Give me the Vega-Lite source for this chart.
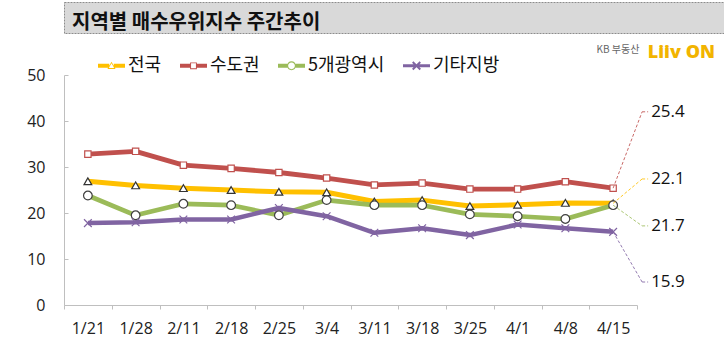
{
  "$schema": "https://vega.github.io/schema/vega-lite/v6.json",
  "padding": {"left": 1, "top": 1, "right": 1, "bottom": 4},
  "background": "white",
  "spacing": 10,
  "resolve": {"legend": {"color": "independent"}, "scale": {"color": "independent"}},
  "config": {"view": {"stroke": null}, "font": "Noto Sans CJK KR"},
  "datasets": {
    "weekly": [
      {"series": "전국", "date": "1/21", "value": 26.9},
      {"series": "전국", "date": "1/28", "value": 26.0},
      {"series": "전국", "date": "2/11", "value": 25.4},
      {"series": "전국", "date": "2/18", "value": 25.0},
      {"series": "전국", "date": "2/25", "value": 24.6},
      {"series": "전국", "date": "3/4", "value": 24.5},
      {"series": "전국", "date": "3/11", "value": 22.5},
      {"series": "전국", "date": "3/18", "value": 22.8},
      {"series": "전국", "date": "3/25", "value": 21.5},
      {"series": "전국", "date": "4/1", "value": 21.8},
      {"series": "전국", "date": "4/8", "value": 22.2},
      {"series": "전국", "date": "4/15", "value": 22.1},
      {"series": "수도권", "date": "1/21", "value": 32.8},
      {"series": "수도권", "date": "1/28", "value": 33.4},
      {"series": "수도권", "date": "2/11", "value": 30.4},
      {"series": "수도권", "date": "2/18", "value": 29.7},
      {"series": "수도권", "date": "2/25", "value": 28.8},
      {"series": "수도권", "date": "3/4", "value": 27.6},
      {"series": "수도권", "date": "3/11", "value": 26.1},
      {"series": "수도권", "date": "3/18", "value": 26.5},
      {"series": "수도권", "date": "3/25", "value": 25.2},
      {"series": "수도권", "date": "4/1", "value": 25.2},
      {"series": "수도권", "date": "4/8", "value": 26.8},
      {"series": "수도권", "date": "4/15", "value": 25.4},
      {"series": "5개광역시", "date": "1/21", "value": 23.8},
      {"series": "5개광역시", "date": "1/28", "value": 19.5},
      {"series": "5개광역시", "date": "2/11", "value": 22.0},
      {"series": "5개광역시", "date": "2/18", "value": 21.7},
      {"series": "5개광역시", "date": "2/25", "value": 19.5},
      {"series": "5개광역시", "date": "3/4", "value": 22.8},
      {"series": "5개광역시", "date": "3/11", "value": 21.7},
      {"series": "5개광역시", "date": "3/18", "value": 21.7},
      {"series": "5개광역시", "date": "3/25", "value": 19.7},
      {"series": "5개광역시", "date": "4/1", "value": 19.3},
      {"series": "5개광역시", "date": "4/8", "value": 18.7},
      {"series": "5개광역시", "date": "4/15", "value": 21.7},
      {"series": "기타지방", "date": "1/21", "value": 17.8},
      {"series": "기타지방", "date": "1/28", "value": 18.0},
      {"series": "기타지방", "date": "2/11", "value": 18.6},
      {"series": "기타지방", "date": "2/18", "value": 18.6},
      {"series": "기타지방", "date": "2/25", "value": 21.1},
      {"series": "기타지방", "date": "3/4", "value": 19.3},
      {"series": "기타지방", "date": "3/11", "value": 15.7},
      {"series": "기타지방", "date": "3/18", "value": 16.7},
      {"series": "기타지방", "date": "3/25", "value": 15.2},
      {"series": "기타지방", "date": "4/1", "value": 17.5},
      {"series": "기타지방", "date": "4/8", "value": 16.7},
      {"series": "기타지방", "date": "4/15", "value": 15.9}
    ],
    "endLabels": [
      {"series": "수도권", "date": "4/15", "value": 25.4, "labelAt": 42.0},
      {"series": "전국", "date": "4/15", "value": 22.1, "labelAt": 27.4},
      {"series": "5개광역시", "date": "4/15", "value": 21.7, "labelAt": 17.2},
      {"series": "기타지방", "date": "4/15", "value": 15.9, "labelAt": 5.0}
    ]
  },
  "vconcat": [
    {
      "width": 721,
      "height": 31,
      "view": {"fill": "#d9d9d9", "stroke": "#8c8c8c", "strokeDash": [2, 1], "strokeWidth": 1},
      "title": {
        "text": "지역별 매수우위지수 주간추이",
        "anchor": "start",
        "frame": "group",
        "orient": "top",
        "offset": -31,
        "dx": 8,
        "fontSize": 20,
        "fontWeight": "bold",
        "font": "Noto Sans CJK KR",
        "color": "#111111"
      },
      "data": {"values": [{"k": 1}]},
      "mark": {"type": "rule", "opacity": 0},
      "encoding": {}
    },
    {
      "width": 573,
      "height": 230,
      "title": {
        "text": "Liiv ON",
        "anchor": "end",
        "frame": "group",
        "orient": "top",
        "offset": -18,
        "dx": 78,
        "fontSize": 18,
        "fontWeight": 900,
        "font": "Noto Sans",
        "color": "#f2b400"
      },
      "encoding": {
        "x": {
          "field": "date",
          "type": "ordinal",
          "bandPosition": 0.5,
          "scale": {
            "type": "band",
            "paddingInner": 0,
            "paddingOuter": 0,
            "domain": ["1/21", "1/28", "2/11", "2/18", "2/25", "3/4", "3/11", "3/18", "3/25", "4/1", "4/8", "4/15"]
          },
          "axis": {
            "title": null,
            "labelAngle": 0,
            "tickBand": "extent",
            "domainColor": "#bfbfbf",
            "tickColor": "#bfbfbf",
            "tickSize": 4,
            "labelFontSize": 16,
            "labelFont": "Open Sans",
            "labelColor": "#222222",
            "labelPadding": 11
          }
        },
        "y": {
          "field": "value",
          "type": "quantitative",
          "scale": {"domain": [0, 50], "nice": false},
          "axis": {
            "title": "KB 부동산",
            "titleAngle": 0,
            "titleX": 532,
            "titleY": -26,
            "titleAlign": "left",
            "titleBaseline": "middle",
            "titleFontSize": 10,
            "titleFontWeight": "normal",
            "titleFont": "Noto Sans CJK KR",
            "titleColor": "#666666",
            "values": [0, 10, 20, 30, 40, 50],
            "grid": false,
            "domainColor": "#bfbfbf",
            "tickColor": "#bfbfbf",
            "tickSize": -4,
            "labelFontSize": 16,
            "labelFont": "Open Sans",
            "labelColor": "#222222",
            "labelPadding": 23,
            "minExtent": 63,
            "maxExtent": 63
          }
        }
      },
      "layer": [
        {
          "data": {"name": "weekly"},
          "mark": {"type": "line", "strokeCap": "butt", "strokeJoin": "round"},
          "encoding": {
            "color": {
              "field": "series",
              "type": "nominal",
              "scale": {
                "domain": ["전국", "수도권", "5개광역시", "기타지방"],
                "range": ["#ffc000", "#c0504d", "#9bbb59", "#8064a2"]
              },
              "legend": {
                "orient": "none",
                "legendX": 34,
                "legendY": -23,
                "direction": "horizontal",
                "title": null,
                "labelFontSize": 18,
                "labelFont": "Noto Sans CJK KR",
                "labelColor": "#111111",
                "symbolSize": 729,
                "labelOffset": 3,
                "columnPadding": 18,
                "encode": {
                  "symbols": {
                    "update": {
                      "shape": {"signal": "['M-1,-0.15H-0.17V0.15H-1Z M0.17,-0.15H1V0.15H0.17Z M0,-0.3L0.3,0.24L-0.3,0.24Z M0,-0.18L-0.2,0.17L0.2,0.17Z', 'M-1,-0.15H-0.25V0.15H-1Z M0.25,-0.15H1V0.15H0.25Z M-0.25,-0.25H0.25V0.25H-0.25Z M-0.18,-0.18V0.18H0.18V-0.18Z', 'M-1,-0.15H-0.31V0.15H-1Z M0.31,-0.15H1V0.15H0.31Z M0.33,0A0.33,0.33 0 1,1 -0.33,0A0.33,0.33 0 1,1 0.33,0Z M0.25,0A0.25,0.25 0 1,0 -0.25,0A0.25,0.25 0 1,0 0.25,0Z', 'M-1,-0.12H1V0.12H-1Z M-0.33,-0.23L-0.23,-0.33L0.33,0.23L0.23,0.33Z M0.23,-0.33L0.33,-0.23L-0.23,0.33L-0.33,0.23Z'][datum.index]"},
                      "fill": {"signal": "['#ffc000', '#c0504d', '#9bbb59', '#8064a2'][datum.index]"},
                      "fillOpacity": {"value": 1},
                      "strokeWidth": {"value": 0},
                      "size": {"value": 729}
                    }
                  }
                }
              }
            },
            "strokeWidth": {
              "field": "series",
              "type": "ordinal",
              "scale": {"domain": ["전국", "수도권", "5개광역시", "기타지방"], "range": [5, 4.5, 5, 3.2]},
              "legend": null
            }
          }
        },
        {
          "data": {"name": "weekly"},
          "transform": [{"filter": "datum.series === '전국'"}],
          "mark": {"type": "point", "shape": "triangle-up", "size": 60, "filled": false, "fill": "white", "fillOpacity": 1, "stroke": "#333333", "strokeWidth": 1.2, "opacity": 1}
        },
        {
          "data": {"name": "weekly"},
          "transform": [{"filter": "datum.series === '수도권'"}],
          "mark": {"type": "point", "shape": "square", "size": 40, "filled": false, "fill": "white", "fillOpacity": 1, "stroke": "#c0504d", "strokeWidth": 1.2, "opacity": 1}
        },
        {
          "data": {"name": "weekly"},
          "transform": [{"filter": "datum.series === '5개광역시'"}],
          "mark": {"type": "point", "shape": "circle", "size": 75, "filled": false, "fill": "white", "fillOpacity": 1, "stroke": "#404040", "strokeWidth": 1.2, "opacity": 1}
        },
        {
          "data": {"name": "weekly"},
          "transform": [{"filter": "datum.series === '기타지방'"}],
          "mark": {"type": "point", "shape": "M-1,-1L1,1M-1,1L1,-1", "size": 60, "filled": false, "stroke": "#8064a2", "strokeWidth": 1.2, "opacity": 1}
        },
        {
          "data": {"name": "endLabels"},
          "mark": {"type": "rule", "strokeDash": [3, 2], "strokeWidth": 1, "x2Offset": 29, "opacity": 0.85},
          "encoding": {
            "x2": {"field": "date"},
            "y2": {"field": "labelAt"},
            "color": {"field": "series", "type": "nominal"}
          }
        },
        {
          "data": {"name": "endLabels"},
          "mark": {"type": "rule", "strokeDash": [3, 2], "strokeWidth": 1, "xOffset": 29, "x2Offset": 35, "opacity": 0.85},
          "encoding": {
            "x2": {"field": "date"},
            "y": {"field": "labelAt", "type": "quantitative"},
            "color": {"field": "series", "type": "nominal"}
          }
        },
        {
          "data": {"name": "endLabels"},
          "mark": {"type": "text", "align": "left", "baseline": "middle", "dx": 38, "fontSize": 17, "font": "Open Sans", "color": "#111111"},
          "encoding": {
            "y": {"field": "labelAt", "type": "quantitative"},
            "text": {"field": "value", "type": "quantitative", "format": ".1f"}
          }
        }
      ]
    }
  ]
}
